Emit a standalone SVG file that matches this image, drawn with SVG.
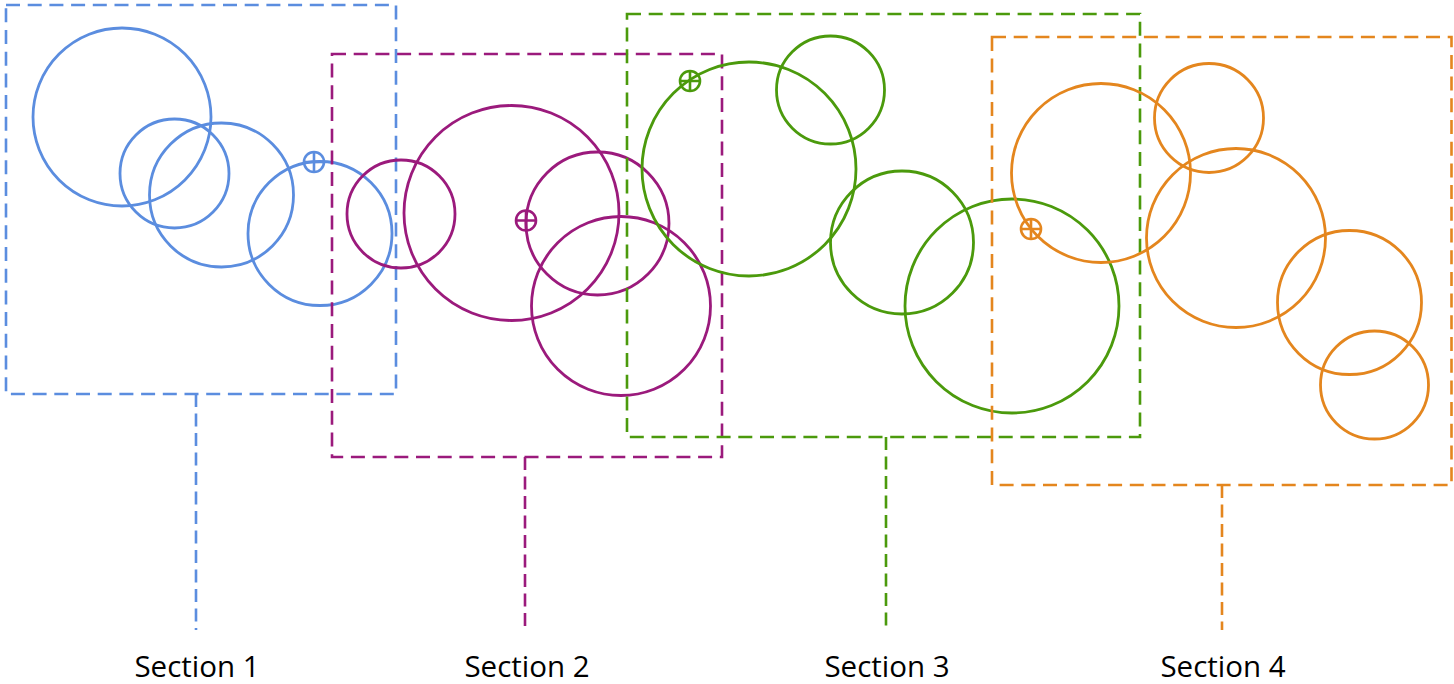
<svg xmlns="http://www.w3.org/2000/svg" width="1454" height="684" viewBox="0 0 1454 684">
<style>
.frame{fill:none;stroke-width:2.6;stroke-dasharray:14 7.7}
.lead{fill:none;stroke-width:2.6;stroke-dasharray:13 6.5}
.c{fill:none;stroke-width:2.8}
.x{fill:none;stroke-width:2.6}
.lbl{font-family:"Open Sans","Noto Sans",sans-serif;font-size:29.5px;fill:#000;text-anchor:middle}
.s1{stroke:#5b8ddf}.s2{stroke:#9b1a7c}.s3{stroke:#4b9a0c}.s4{stroke:#e4861e}
</style>
<defs>
<g id="cross"><circle r="10" cx="0" cy="0"/><path d="M-10 0H10M0 -10V10"/></g>
</defs>
<rect width="1454" height="684" fill="#fff"/>
<g id="connectors">
<line class="lead s1" x1="196" y1="394" x2="196" y2="630"/>
<line class="lead s2" x1="525" y1="457" x2="525" y2="630"/>
<line class="lead s3" x1="886" y1="437" x2="886" y2="630"/>
<line class="lead s4" x1="1222" y1="485" x2="1222" y2="630"/>
</g>
<g id="section1">
<rect class="frame s1" x="6" y="5" width="390" height="389"/>
<circle class="c s1" cx="122" cy="117" r="89"/>
<circle class="c s1" cx="174.5" cy="173.5" r="54.5"/>
<circle class="c s1" cx="221.5" cy="195" r="72"/>
<circle class="c s1" cx="320" cy="233.5" r="72"/>
<use href="#cross" class="x s1" x="314" y="162"/>
</g>
<g id="section2">
<rect class="frame s2" x="332" y="54" width="390" height="403"/>
<circle class="c s2" cx="401" cy="214" r="54"/>
<circle class="c s2" cx="511.5" cy="213" r="107.5"/>
<circle class="c s2" cx="597.5" cy="223.5" r="71.5"/>
<circle class="c s2" cx="621" cy="306" r="89.5"/>
<use href="#cross" class="x s2" x="526" y="220.5"/>
</g>
<g id="section3">
<rect class="frame s3" x="627" y="14" width="513" height="423"/>
<circle class="c s3" cx="749" cy="169" r="107"/>
<circle class="c s3" cx="830.5" cy="90" r="54"/>
<circle class="c s3" cx="902" cy="242.5" r="71.5"/>
<circle class="c s3" cx="1012" cy="306" r="107"/>
<use href="#cross" class="x s3" x="690" y="81"/>
</g>
<g id="section4">
<rect class="frame s4" x="992" y="37" width="459.5" height="448"/>
<circle class="c s4" cx="1101" cy="173" r="89.5"/>
<circle class="c s4" cx="1209" cy="118" r="54.5"/>
<circle class="c s4" cx="1236" cy="238" r="89.5"/>
<circle class="c s4" cx="1349.5" cy="302.5" r="72"/>
<circle class="c s4" cx="1374.5" cy="385" r="54"/>
<use href="#cross" class="x s4" x="1031" y="229"/>
</g>
<g id="labels">
<text class="lbl" x="197" y="677">Section 1</text>
<text class="lbl" x="527" y="677">Section 2</text>
<text class="lbl" x="887" y="677">Section 3</text>
<text class="lbl" x="1223" y="677">Section 4</text>
</g>
</svg>
